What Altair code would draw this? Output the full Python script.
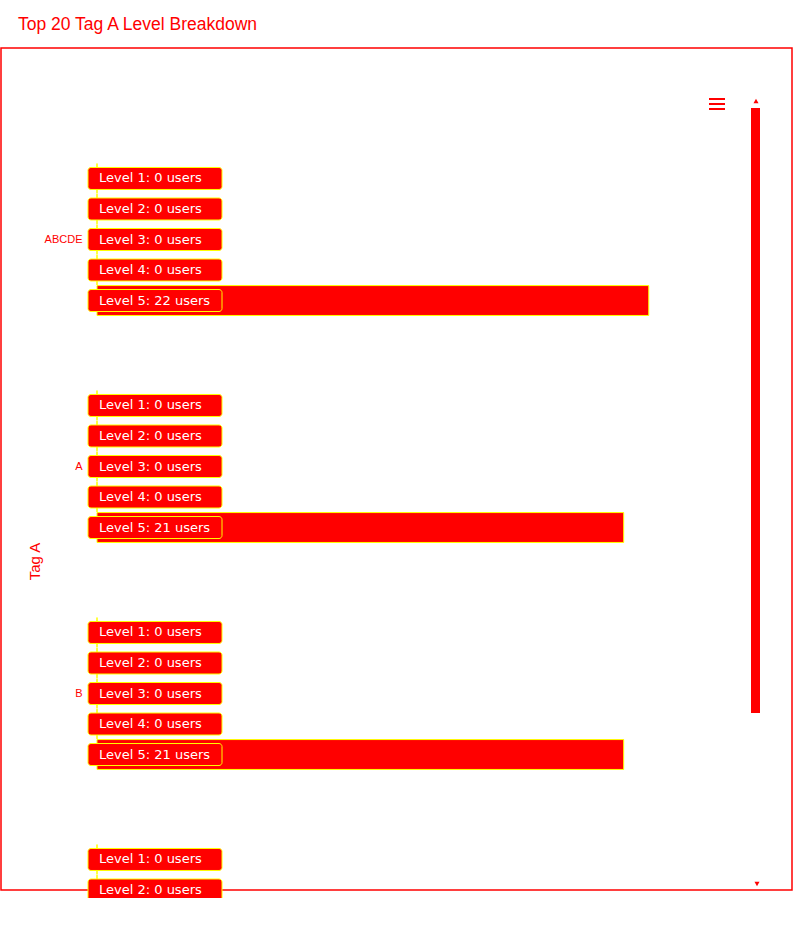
import altair as alt
import pandas as pd

# ---- data ----
categories = ["ABCDE", "A", "B", "C"]
levels = ["Level 1", "Level 2", "Level 3", "Level 4", "Level 5"]
users_abcde = [0, 0, 0, 0, 22]
users_a = [0, 0, 0, 0, 21]
users_b = [0, 0, 0, 0, 21]
users_c = [0, 0]          # only the first two levels of the 4th tag are visible
title_text = "Top 20 Tag A Level Breakdown"
axis_title = "Tag A"
labelled_tags = ["ABCDE", "A", "B"]

series = {"ABCDE": users_abcde, "A": users_a, "B": users_b, "C": users_c}
df = pd.DataFrame(
    [{"tag": c, "level": l, "users": v} for c in categories for l, v in zip(levels, series[c])]
)
one = pd.DataFrame({"k": [0]})

RED = "#ff0000"
YEL = "#ffff00"

y_enc = alt.Y(
    "tag:N",
    sort=categories,
    scale=alt.Scale(domain=categories, range=[0, 908], paddingInner=0.328, paddingOuter=0.164),
    axis=alt.Axis(
        title=axis_title,
        values=labelled_tags,
        domain=False,
        ticks=False,
        grid=False,
        labelPadding=15,
        labelFont="Liberation Sans",
        labelFontSize=11,
        labelColor=RED,
        titleFont="Liberation Sans",
        titleFontSize=15,
        titleFontWeight="normal",
        titleColor=RED,
        titleX=-63,
        titleY=435,
        titleBaseline="middle",
    ),
)
yo_enc = alt.YOffset(
    "level:N", sort=levels,
    scale=alt.Scale(domain=levels, paddingInner=0.02, paddingOuter=0.01),
)

base = alt.Chart(df).transform_calculate(
    label="datum.level + ': ' + datum.users + ' users'"
)

bars = base.mark_bar(fill=RED, stroke=YEL, strokeWidth=1).encode(
    x=alt.X("users:Q", scale=alt.Scale(domain=[0, 25]), axis=None),
    y=y_enc,
    yOffset=yo_enc,
)

boxes = base.mark_bar(size=22, cornerRadius=3, fill=RED, stroke=YEL, strokeWidth=1).encode(
    x=alt.value(-9),
    x2=alt.value(125),
    y=y_enc,
    yOffset=yo_enc,
)

labels = base.mark_text(
    align="left", baseline="middle", font="DejaVu Sans", fontSize=13, color="white"
).encode(
    x=alt.value(2),
    y=y_enc,
    yOffset=yo_enc,
    text="label:N",
)

# ---- page decorations (card frame, title, menu icon, scrollbar) ----
deco = alt.Chart(one)
frame = deco.mark_rect(fill="transparent", stroke=RED, strokeWidth=1.5).encode(
    x=alt.value(-96), x2=alt.value(695), y=alt.value(-78), y2=alt.value(764)
)
title = deco.mark_text(
    align="left", baseline="middle", font="Liberation Sans", fontSize=17.5, color=RED
).encode(x=alt.value(-79), y=alt.value(-101), text=alt.value(title_text))
menu1 = deco.mark_rule(color=RED, strokeWidth=2).encode(
    x=alt.value(612), x2=alt.value(628), y=alt.value(-27)
)
menu2 = deco.mark_rule(color=RED, strokeWidth=2).encode(
    x=alt.value(612), x2=alt.value(628), y=alt.value(-22)
)
menu3 = deco.mark_rule(color=RED, strokeWidth=2).encode(
    x=alt.value(612), x2=alt.value(628), y=alt.value(-17)
)
thumb = deco.mark_rect(fill=RED).encode(
    x=alt.value(654), x2=alt.value(663), y=alt.value(-18), y2=alt.value(587)
)
up = deco.mark_point(shape="triangle-up", filled=True, size=25, color=RED, opacity=1).encode(
    x=alt.value(659), y=alt.value(-25)
)
down = deco.mark_point(shape="triangle-down", filled=True, size=25, color=RED, opacity=1).encode(
    x=alt.value(660), y=alt.value(758)
)

chart = (
    alt.layer(frame, thumb, up, down, menu1, menu2, menu3, title, bars, boxes, labels)
    .properties(
        width=627,
        height=764,
        padding={"left": 97, "top": 126, "right": 69, "bottom": 8},
        autosize=alt.AutoSizeParams(type="none"),
        background="white",
    )
    .configure_view(strokeWidth=0)
)

chart.save("out.html", embed_options={"renderer": "svg", "actions": False})
